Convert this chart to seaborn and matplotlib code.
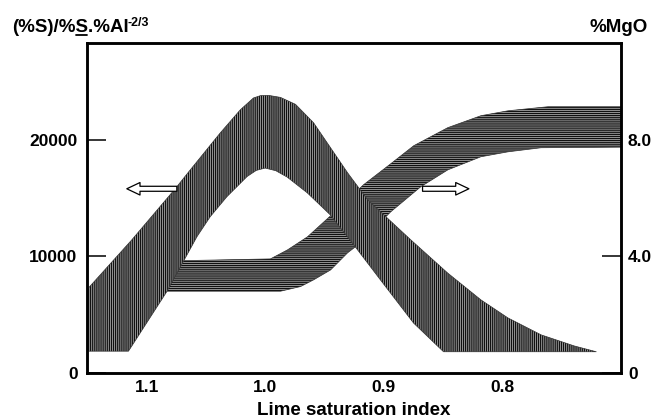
import matplotlib
matplotlib.use("Agg")
import pandas as pd
import seaborn as sns
import matplotlib.pyplot as plt

# sulphide capacity band (left axis) - upper / lower edge
cs_upper_lsi = [1.150, 1.1125, 1.0759, 1.0632, 1.0378, 1.0209, 1.0099, 1.004,
                0.997, 0.9871, 0.9744, 0.9592, 0.9305, 0.9136, 0.8772, 0.8462,
                0.8180, 0.7952, 0.7673, 0.7394, 0.7208]
cs_upper = [7170, 11410, 15800, 17420, 20610, 22590, 23600, 23800,
            23820, 23650, 23050, 21470, 17170, 14850, 11410, 8570,
            6250, 4700, 3250, 2300, 1800]
cs_lower_lsi = [1.150, 1.1153, 1.0830, 1.0575, 1.0463, 1.0322, 1.0153, 1.0075,
                1.000, 0.991, 0.9814, 0.9645, 0.9451, 0.9240, 0.9028, 0.8749,
                0.8496, 0.7208]
cs_lower = [1850, 1850, 6960, 11690, 13410, 15130, 16850, 17380,
            17580, 17350, 16800, 15450, 13560, 10810, 7970, 4270,
            1800, 1800]

# MgO band (right axis) - upper / lower edge
mgo_upper_lsi = [1.088, 1.070, 0.9956, 0.9812, 0.9643, 0.9449, 0.9170, 0.8941,
                 0.8747, 0.8460, 0.8181, 0.7952, 0.7614, 0.700]
mgo_upper = [3.85, 3.85, 3.91, 4.22, 4.67, 5.39, 6.46, 7.18,
             7.80, 8.42, 8.83, 9.00, 9.14, 9.14]
mgo_lower_lsi = [1.088, 0.9871, 0.9702, 0.9592, 0.9449, 0.9305, 0.9238, 0.8941,
                 0.8688, 0.8460, 0.8181, 0.7952, 0.7673, 0.700]
mgo_lower = [2.80, 2.80, 2.96, 3.19, 3.53, 4.12, 4.33, 5.53,
             6.39, 6.97, 7.42, 7.59, 7.73, 7.75]

x_ticks = [1.1, 1.0, 0.9, 0.8]
cs_ticks = [0, 10000, 20000]
mgo_ticks = [0, 4.0, 8.0]


def band(xu, yu, xl, yl, name):
    # polygon: upper edge left->right, lower edge back right->left
    xs = list(xu) + list(xl[::-1])
    ys = list(yu) + list(yl[::-1])
    xs.append(xs[0])
    ys.append(ys[0])
    return pd.DataFrame({"lsi": xs, name: ys})


sns.set_theme(style="white")
plt.rcParams["font.family"] = ["Liberation Sans", "DejaVu Sans"]
plt.rcParams["font.weight"] = "bold"
plt.rcParams["hatch.linewidth"] = 0.9

df_cs = band(cs_upper_lsi, cs_upper, cs_lower_lsi, cs_lower, "cs")
df_mgo = band(mgo_upper_lsi, mgo_upper, mgo_lower_lsi, mgo_lower, "mgo")

fig = plt.figure(figsize=(6.55, 4.2), dpi=100)
ax = fig.add_axes([0.1333, 0.1126, 0.8147, 0.7844])
ax2 = ax.twinx()
ax.set_zorder(2)
ax2.set_zorder(1)
ax.patch.set_visible(False)

# MgO band, horizontal hatching
ax2.fill(df_mgo["lsi"], df_mgo["mgo"], facecolor="#a8a8a8", edgecolor="#111111",
         hatch="-" * 8, linewidth=0)
sns.lineplot(data=df_mgo, x="lsi", y="mgo", sort=False, estimator=None,
             color="#333333", linewidth=0.5, ax=ax2)

# sulphide capacity band, vertical hatching (on top)
ax.fill(df_cs["lsi"], df_cs["cs"], facecolor="#a8a8a8", edgecolor="#111111",
        hatch="|" * 8, linewidth=0)
sns.lineplot(data=df_cs, x="lsi", y="cs", sort=False, estimator=None,
             color="#333333", linewidth=0.5, ax=ax)

arrow = dict(arrowstyle="simple,head_length=0.95,head_width=0.9,tail_width=0.36",
             fc="white", ec="black", lw=0.9, mutation_scale=10, shrinkA=0, shrinkB=0)
ax.annotate("", xy=(1.1167, 15800), xytext=(1.0745, 15800), arrowprops=arrow)
ax.annotate("", xy=(0.8282, 15800), xytext=(0.8673, 15800), arrowprops=arrow)

ax.set_xlim(1.15, 0.70)
ax.set_ylim(0, 28300)
ax2.set_ylim(0, 28300 / 2500)

ax.set_xticks(x_ticks)
ax.set_xticklabels([f"{v:.1f}" for v in x_ticks])
ax.set_yticks(cs_ticks)
ax.set_yticklabels([str(v) for v in cs_ticks])
ax2.set_yticks(mgo_ticks)
ax2.set_yticklabels(["0", "4.0", "8.0"])

for a in (ax, ax2):
    for s in a.spines.values():
        s.set_linewidth(1.8)
        s.set_color("black")
    a.set_ylabel("")
ax.tick_params(axis="both", direction="in", length=13.5, width=1.1,
               labelsize=12.5, colors="black")
ax.tick_params(axis="y", pad=7)
ax.tick_params(axis="x", pad=5)
ax2.tick_params(axis="y", direction="in", length=13.5, width=1.1,
                labelsize=12.5, colors="black", pad=5)
ax.tick_params(axis="y", right=False)
ax.set_xlabel("Lime saturation index", fontsize=13.5, fontweight="bold",
              labelpad=5, color="black")

# axis titles
fs = 13.5
base_x, base_y = 0.0179, 0.925
fig.canvas.draw()
rend = fig.canvas.get_renderer()


def text_width(s, size):
    t = fig.text(base_x, base_y, s, fontsize=size, fontweight="bold")
    w = t.get_window_extent(rend).width / fig.bbox.width
    t.remove()
    return w


fig.text(base_x, base_y, "(%S)/%S.%Al", fontsize=fs, fontweight="bold",
         va="baseline", color="black")
x0 = base_x + text_width("(%S)/%", fs)
x1 = base_x + text_width("(%S)/%S", fs)
fig.add_artist(plt.Line2D([x0 + 0.001, x1 - 0.001], [base_y - 0.008, base_y - 0.008],
                          color="black", linewidth=1.3,
                          transform=fig.transFigure))
fig.text(base_x + text_width("(%S)/%S.%Al", fs) - 0.002, base_y + 0.013,
         "-2/3", fontsize=9, fontweight="bold", va="baseline", color="black")
fig.text(0.989, base_y, "%MgO", fontsize=fs, fontweight="bold",
         va="baseline", ha="right", color="black")

fig.savefig("out.png", dpi=100)
plt.close(fig)
